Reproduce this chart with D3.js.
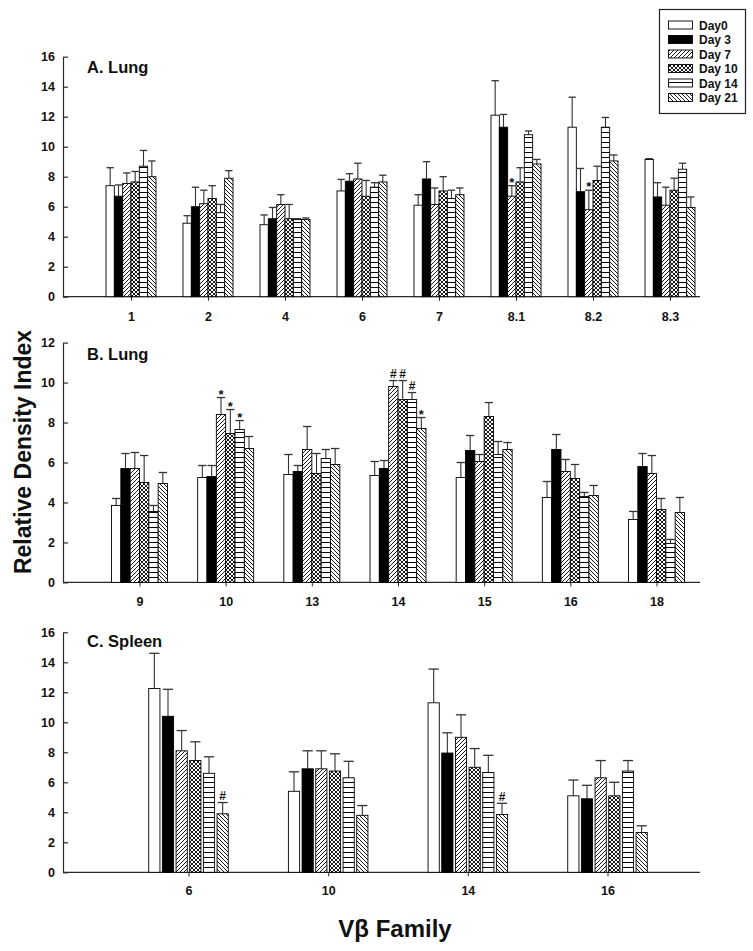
<!DOCTYPE html>
<html><head><meta charset="utf-8">
<script src="https://cdn.jsdelivr.net/npm/d3@7"></script>
<style>
body{margin:0;background:#fff}
svg{display:block}
text{font-family:"Liberation Sans",Arial,Helvetica,sans-serif;font-weight:bold;fill:#111}
</style>
</head><body>
<svg id="chart" width="753" height="951"></svg>
<script>
// ---------- DATA ----------
const days = ["Day0", "Day 3", "Day 7", "Day 10", "Day 14", "Day 21"];

// Panel A: Lung
const catsA = ["1", "2", "4", "6", "7", "8.1", "8.2", "8.3"];
const meanA_day0  = [7.4, 4.9, 4.8, 7.05, 6.1, 12.1, 11.3, 9.15];
const meanA_day3  = [6.7, 6.0, 5.2, 7.7, 7.85, 11.3, 7.0, 6.65];
const meanA_day7  = [7.55, 6.2, 6.15, 7.85, 6.15, 6.7, 5.8, 6.1];
const meanA_day10 = [7.65, 6.55, 5.2, 6.7, 7.05, 7.65, 7.75, 7.1];
const meanA_day14 = [8.7, 5.6, 5.15, 7.3, 6.55, 10.8, 11.3, 8.5];
const meanA_day21 = [8.0, 7.9, 5.15, 7.65, 6.8, 8.85, 9.05, 5.95];
const errA_day0  = [1.2, 0.5, 0.65, 0.77, 0.7, 2.3, 2.0, 0.05];
const errA_day3  = [0.75, 1.3, 0.75, 0.5, 1.15, 0.85, 1.55, 0.95];
const errA_day7  = [0.7, 0.9, 0.65, 1.05, 1.1, 0.7, 1.3, 1.2];
const errA_day10 = [0.7, 0.85, 0.95, 1.05, 0.95, 0.95, 0.95, 0.8];
const errA_day14 = [1.05, 0.55, 0.05, 0.3, 0.55, 0.25, 0.65, 0.4];
const errA_day21 = [1.05, 0.5, 0.1, 0.45, 0.45, 0.3, 0.4, 0.7];
const ticksA = [0, 2, 4, 6, 8, 10, 12, 14, 16];
const marksA = [["8.1", 2, "*"], ["8.2", 2, "*"]];

// Panel B: Lung
const catsB = ["9", "10", "13", "14", "15", "16", "18"];
const meanB_day0  = [3.85, 5.25, 5.4, 5.35, 5.25, 4.25, 3.15];
const meanB_day3  = [5.7, 5.3, 5.55, 5.7, 6.6, 6.65, 5.8];
const meanB_day7  = [5.7, 8.4, 6.65, 9.8, 6.05, 5.55, 5.45];
const meanB_day10 = [5.0, 7.45, 5.45, 9.15, 8.3, 5.2, 3.65];
const meanB_day14 = [3.55, 7.65, 6.2, 9.15, 6.4, 4.3, 1.95];
const meanB_day21 = [4.95, 6.7, 5.9, 7.7, 6.65, 4.35, 3.5];
const errB_day0  = [0.35, 0.6, 1.0, 0.7, 0.75, 0.8, 0.4];
const errB_day3  = [0.75, 0.55, 0.3, 0.4, 0.75, 0.75, 0.65];
const errB_day7  = [0.8, 0.85, 1.15, 0.3, 0.35, 0.6, 0.9];
const errB_day10 = [1.35, 1.2, 1.0, 0.95, 0.7, 0.7, 0.55];
const errB_day14 = [0.3, 0.45, 0.45, 0.35, 0.65, 0.2, 0.2];
const errB_day21 = [0.55, 0.6, 0.8, 0.55, 0.35, 0.5, 0.75];
const ticksB = [0, 2, 4, 6, 8, 10, 12];
const marksB = [["10", 2, "*"], ["10", 3, "*"], ["10", 4, "*"],
                ["14", 2, "#"], ["14", 3, "#"], ["14", 4, "#"], ["14", 5, "*"]];

// Panel C: Spleen
const catsC = ["6", "10", "14", "16"];
const meanC_day0  = [12.25, 5.4, 11.3, 5.1];
const meanC_day3  = [10.4, 6.9, 7.95, 4.9];
const meanC_day7  = [8.1, 6.9, 9.0, 6.3];
const meanC_day10 = [7.45, 6.75, 7.0, 5.1];
const meanC_day14 = [6.6, 6.3, 6.65, 6.75];
const meanC_day21 = [3.9, 3.8, 3.85, 2.65];
const errC_day0  = [2.35, 1.3, 2.25, 1.05];
const errC_day3  = [1.8, 1.2, 1.35, 0.9];
const errC_day7  = [1.35, 1.2, 1.5, 1.15];
const errC_day10 = [1.25, 1.15, 1.25, 0.9];
const errC_day14 = [1.1, 1.1, 1.15, 0.7];
const errC_day21 = [0.75, 0.65, 0.75, 0.45];
const ticksC = [0, 2, 4, 6, 8, 10, 12, 14, 16];
const marksC = [["6", 5, "#"], ["14", 5, "#"]];

const yTitle = "Relative Density Index";
const xTitle = "Vβ Family";

// ---------- LAYOUT ----------
const svg = d3.select("#chart");
const defs = svg.append("defs");
const AX = "#2a2a2a";

function makePattern(id, size, d, sw) {
  const p = defs.append("pattern").attr("id", id)
    .attr("patternUnits", "userSpaceOnUse").attr("width", size).attr("height", size);
  p.append("rect").attr("width", size).attr("height", size).attr("fill", "#fff");
  p.append("path").attr("d", d).attr("stroke", "#000").attr("stroke-width", sw).attr("fill", "none");
}
makePattern("p7", 4, "M-1,1L1,-1M0,4L4,0M3,5L5,3", 0.9);
makePattern("p21", 4, "M-1,3L1,5M0,0L4,4M3,-1L5,1", 0.9);
makePattern("p10", 4, "M-1,1L1,-1M0,4L4,0M3,5L5,3M-1,3L1,5M0,0L4,4M3,-1L5,1", 0.9);
makePattern("p14", 5, "M0,2.5L5,2.5", 1);
const fills = ["#fff", "#000", "url(#p7)", "url(#p10)", "url(#p14)", "url(#p21)"];

const panels = [
  { title: "A. Lung", cats: catsA, ticks: ticksA, marks: marksA,
    means: [meanA_day0, meanA_day3, meanA_day7, meanA_day10, meanA_day14, meanA_day21],
    errs: [errA_day0, errA_day3, errA_day7, errA_day10, errA_day14, errA_day21],
    yPx: [296.7, 56.7], xPx: [131, 670], group: 50, pad: 0, labelOff: 11.5, titleY: 72.5 },
  { title: "B. Lung", cats: catsB, ticks: ticksB, marks: marksB,
    means: [meanB_day0, meanB_day3, meanB_day7, meanB_day10, meanB_day14, meanB_day21],
    errs: [errB_day0, errB_day3, errB_day7, errB_day10, errB_day14, errB_day21],
    yPx: [582.4, 342.6], xPx: [139.5, 656.5], group: 56, pad: 0, labelOff: 10.5, titleY: 360 },
  { title: "C. Spleen", cats: catsC, ticks: ticksC, marks: marksC,
    means: [meanC_day0, meanC_day3, meanC_day7, meanC_day10, meanC_day14, meanC_day21],
    errs: [errC_day0, errC_day3, errC_day7, errC_day10, errC_day14, errC_day21],
    yPx: [872.3, 632.3], xPx: [188.5, 607.5], group: 82, pad: 0.18, labelOff: 10, titleY: 646.5 }
];

const axisX0 = 63, axisX1 = 700;

panels.forEach(P => {
  const g = svg.append("g");
  const y = d3.scaleLinear().domain([0, d3.max(P.ticks)]).range(P.yPx);
  const x = d3.scalePoint().domain(P.cats).range(P.xPx);
  const inner = d3.scaleBand().domain(days).range([-P.group / 2, P.group / 2])
    .paddingInner(P.pad).paddingOuter(P.pad / 2);

  // y axis
  const ya = g.append("g").attr("transform", `translate(${axisX0},0)`)
    .call(d3.axisLeft(y).tickValues(P.ticks).tickSizeInner(-5).tickSizeOuter(0).tickPadding(8));
  ya.select(".domain").attr("stroke", AX).attr("stroke-width", 1.2);
  ya.selectAll(".tick line").attr("stroke", AX).attr("stroke-width", 1.2);
  ya.selectAll("text").style("font-size", "12.5px").attr("fill", "#111");

  // x axis
  const xa = g.append("g").attr("transform", `translate(0,${P.yPx[0]})`)
    .call(d3.axisBottom(x).tickSize(4).tickPadding(P.labelOff));
  xa.select(".domain").remove();
  xa.selectAll(".tick line").attr("stroke", AX).attr("stroke-width", 1);
  xa.selectAll("text").style("font-size", "12.5px").attr("fill", "#111");
  g.append("line").attr("x1", axisX0).attr("x2", axisX1)
    .attr("y1", P.yPx[0]).attr("y2", P.yPx[0]).attr("stroke", AX).attr("stroke-width", 1.2);

  // bars
  const rows = [];
  P.cats.forEach((c, i) => days.forEach((d, j) => rows.push({
    c, d, j, v: P.means[j][i], e: P.errs[j][i]
  })));
  const bw = inner.bandwidth();
  const bars = g.append("g");
  bars.selectAll("g.err").data(rows).join("g").attr("class", "err").each(function (r) {
    const gx = x(r.c) + inner(r.d);
    const s = d3.select(this);
    s.append("line").attr("x1", gx + bw / 2).attr("x2", gx + bw / 2)
      .attr("y1", y(r.v)).attr("y2", y(r.v + r.e)).attr("stroke", "#333").attr("stroke-width", 1.1);
    s.append("line").attr("x1", gx + 0.5).attr("x2", gx + bw - 0.5)
      .attr("y1", y(r.v + r.e)).attr("y2", y(r.v + r.e)).attr("stroke", "#333").attr("stroke-width", 1.3);
  });
  bars.selectAll("rect").data(rows).join("rect")
    .attr("x", r => x(r.c) + inner(r.d))
    .attr("y", r => y(r.v))
    .attr("width", bw)
    .attr("height", r => y(0) - y(r.v))
    .attr("fill", r => fills[r.j])
    .attr("stroke", "#000").attr("stroke-width", 0.9);

  // significance marks (placed just above the error-bar cap)
  g.selectAll("text.mark").data(P.marks).join("text").attr("class", "mark")
    .attr("x", m => x(m[0]) + inner(days[m[1]]) + bw / 2)
    .attr("y", m => {
      const i = P.cats.indexOf(m[0]);
      const top = P.means[m[1]][i] + P.errs[m[1]][i];
      return y(top) + (m[2] === "*" ? 1 : -2.5);
    })
    .attr("text-anchor", "middle")
    .style("font-size", m => m[2] === "*" ? "13px" : "12px")
    .text(m => m[2]);

  // panel title
  g.append("text").attr("x", 87).attr("y", P.titleY).style("font-size", "16.5px").text(P.title);
});

// axis titles
svg.append("text").attr("transform", "translate(31,452) rotate(-90)")
  .attr("text-anchor", "middle").style("font-size", "23px").text(yTitle);
svg.append("text").attr("x", 395).attr("y", 937)
  .attr("text-anchor", "middle").style("font-size", "24px").text(xTitle);

// legend
const lg = svg.append("g");
lg.append("rect").attr("x", 659.5).attr("y", 9.5).attr("width", 86).attr("height", 104)
  .attr("fill", "#fff").attr("stroke", "#222").attr("stroke-width", 1.2);
const ly = d3.scalePoint().domain(days).range([25, 97.5]);
days.forEach((d, j) => {
  lg.append("rect").attr("x", 668.5).attr("y", ly(d) - 4).attr("width", 24).attr("height", 8)
    .attr("fill", fills[j]).attr("stroke", "#000").attr("stroke-width", 0.9);
  lg.append("text").attr("x", 699).attr("y", ly(d) + 4.5).style("font-size", "12px").text(d);
});
</script>
</body></html>
